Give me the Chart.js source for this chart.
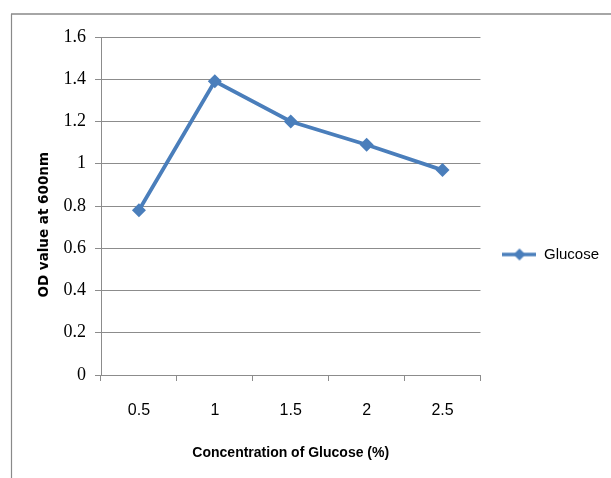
<!DOCTYPE html>
<html>
<head>
<meta charset="utf-8">
<script src="https://cdn.jsdelivr.net/npm/chart.js@4/dist/chart.umd.min.js"></script>
<style>
  html, body { margin: 0; padding: 0; background: #ffffff; }
  #wrap { width: 611px; height: 478px; position: relative; }
</style>
</head>
<body>
<div id="wrap"><canvas id="c" width="611" height="478"></canvas></div>
<script>
// Glucose concentration (%) vs optical density at 600 nm
const concentrations = ['0.5', '1', '1.5', '2', '2.5'];
const odValues = [0.78, 1.39, 1.20, 1.09, 0.97];
const seriesName = 'Glucose';
const yTickValues = [0, 0.2, 0.4, 0.6, 0.8, 1, 1.2, 1.4, 1.6];

const LINE_BLUE = '#4a7ebb';
const GRID_GREY = '#8c8c8c';
const SANS = "'Liberation Sans Narrow', 'Arial Narrow', 'Liberation Sans', sans-serif";

// Legend symbol: a short line with a diamond on it
function legendSymbol() {
  const cv = document.createElement('canvas');
  cv.width = 34; cv.height = 14;
  const g = cv.getContext('2d');
  g.strokeStyle = LINE_BLUE;
  g.lineWidth = 3.5;
  g.beginPath(); g.moveTo(0, 7); g.lineTo(34, 7); g.stroke();
  g.fillStyle = LINE_BLUE;
  g.beginPath(); g.moveTo(17, 1); g.lineTo(23, 7); g.lineTo(17, 13); g.lineTo(11, 7); g.closePath(); g.fill();
  return cv;
}

// Frame lines along the top and left edge of the figure
const framePlugin = {
  id: 'frame',
  afterDraw(chart) {
    const ctx = chart.ctx;
    ctx.save();
    ctx.strokeStyle = '#a6a6a6';
    ctx.lineWidth = 2;
    ctx.beginPath(); ctx.moveTo(11, 14); ctx.lineTo(611, 14); ctx.stroke();
    ctx.strokeStyle = '#8a8a8a';
    ctx.lineWidth = 1.2;
    ctx.beginPath(); ctx.moveTo(11.5, 14); ctx.lineTo(11.5, 478); ctx.stroke();
    ctx.restore();
  }
};

new Chart(document.getElementById('c'), {
  type: 'line',
  data: {
    labels: concentrations,
    datasets: [{
      label: seriesName,
      data: odValues,
      borderColor: LINE_BLUE,
      backgroundColor: LINE_BLUE,
      borderWidth: 3.8,
      pointStyle: 'rectRot',
      pointRadius: 7,
      pointHoverRadius: 7,
      pointBackgroundColor: LINE_BLUE,
      pointBorderColor: LINE_BLUE,
      pointBorderWidth: 0,
      tension: 0,
      fill: false
    }]
  },
  options: {
    responsive: false,
    animation: false,
    devicePixelRatio: 1,
    layout: { padding: { left: 0, top: 37, right: 2, bottom: 6 } },
    plugins: {
      title: { display: false },
      tooltip: { enabled: false },
      legend: {
        display: true,
        position: 'right',
        labels: {
          usePointStyle: true,
          pointStyleWidth: 34,
          padding: 22,
          color: '#000000',
          font: { family: SANS, size: 15 },
          generateLabels(chart) {
            return chart.data.datasets.map((ds, i) => ({
              text: ds.label,
              pointStyle: legendSymbol(),
              fillStyle: LINE_BLUE,
              strokeStyle: LINE_BLUE,
              lineWidth: 0,
              hidden: false,
              datasetIndex: i
            }));
          }
        }
      }
    },
    scales: {
      x: {
        type: 'category',
        offset: true,
        afterFit(scale) { scale.height = 97; },
        grid: {
          offset: true,
          drawOnChartArea: false,
          drawTicks: true,
          tickLength: 6,
          color: GRID_GREY
        },
        border: { display: true, color: GRID_GREY, width: 1 },
        ticks: {
          color: '#000000',
          padding: 20,
          maxRotation: 0,
          font: { family: SANS, size: 16 }
        },
        title: {
          display: true,
          text: 'Concentration of Glucose (%)',
          color: '#000000',
          padding: { top: 0, bottom: 10 },
          font: { family: SANS, size: 14, weight: 'bold' }
        }
      },
      y: {
        min: 0,
        max: 1.6,
        afterFit(scale) { scale.width = 101; },
        afterBuildTicks(scale) { scale.ticks = yTickValues.map(v => ({ value: v })); },
        grid: {
          color: GRID_GREY,
          lineWidth: 1,
          drawTicks: true,
          tickLength: 6
        },
        border: { display: true, color: GRID_GREY, width: 1 },
        ticks: {
          color: '#000000',
          padding: 9,
          font: { family: "'Liberation Serif', 'Times New Roman', serif", size: 18 },
          callback(v) { return String(Math.round(v * 10) / 10); }
        },
        title: {
          display: true,
          // trailing spaces keep the rotated title sitting a little below the axis centre
          text: 'OD value at 600nm' + '\u00a0'.repeat(8),
          color: '#000000',
          padding: { top: 36, bottom: 0 },
          font: { family: "'DejaVu Sans', Verdana, sans-serif", size: 13.5, weight: 'bold' }
        }
      }
    }
  },
  plugins: [framePlugin]
});
</script>
</body>
</html>
